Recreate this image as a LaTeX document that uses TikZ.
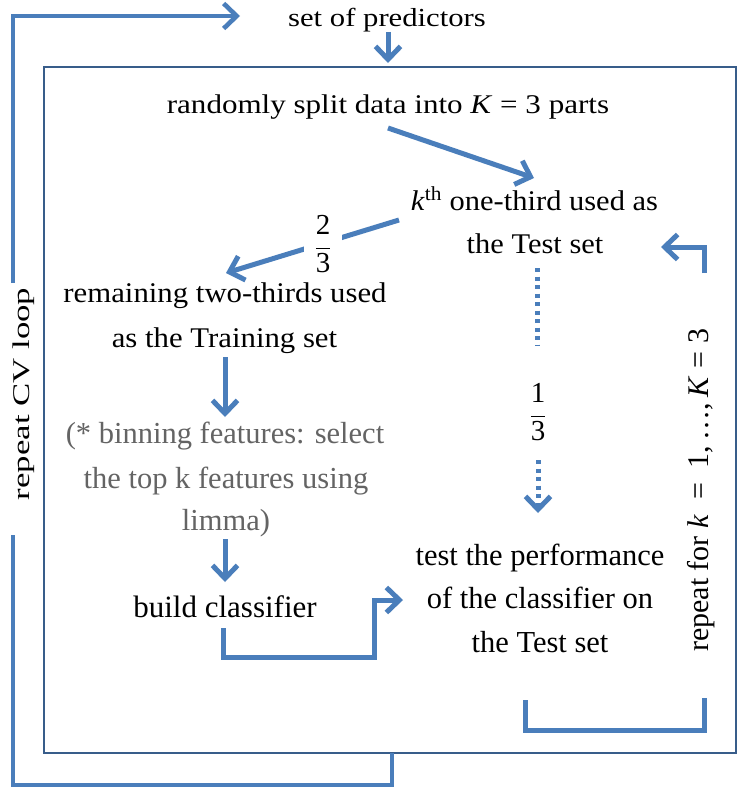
\documentclass[tikz,border=0pt]{standalone}
\usepackage{fontspec}
\setmainfont{Liberation Serif}
\usepackage{graphicx}
\usetikzlibrary{arrows.meta}
\definecolor{arrowblue}{RGB}{74,126,187}
\definecolor{boxblue}{RGB}{56,93,138}
\definecolor{notegray}{RGB}{100,100,100}
\newcommand{\sx}[2]{\scalebox{#1}[1]{#2}}
\newcommand{\fs}[1]{\fontsize{#1}{#1}\selectfont}
\newcommand{\myfrac}[2]{$\displaystyle\frac{\raisebox{3pt}{#1}}{\raisebox{-1.5pt}{#2}}$}
\begin{document}
\begin{tikzpicture}[x=1pt,y=-1pt,
  lbl/.style={inner sep=0pt, anchor=base},
  conn/.style={draw=arrowblue, line width=5pt},
  loopline/.style={draw=arrowblue, line width=4.6pt},
  tip/.style={-{Straight Barb[length=13pt,width=25pt]}},
  dotline/.style={dash pattern=on 4.4pt off 4.1pt}
]
\useasboundingbox (0,0) rectangle (742,792);
\fill[white] (0,0) rectangle (742,792);

% inner frame
\draw[boxblue, line width=1.3pt] (44,67) rectangle (736,753);

% text nodes
\node[lbl, font=\fs{26}] (pred) at (387,27) {\sx{1.18}{set of predictors}};
\node[lbl, font=\fs{27}] (split) at (388,113) {\sx{1.15}{randomly split data into \textit{K} = 3 parts}};
\node[lbl, font=\fs{28.5}] (kthA) at (534.5,210) {\sx{1.07}{\textit{k}\textsuperscript{th} one-third used as}};
\node[lbl, font=\fs{28.5}] (kthB) at (535,253) {\sx{1.07}{the Test set}};
\node[lbl, font=\fs{28.5}] (trainA) at (225,302) {\sx{1.08}{remaining two-thirds used}};
\node[lbl, font=\fs{28.5}] (trainB) at (224.5,347) {\sx{1.08}{as the Training set}};
\node[lbl, font=\fs{30.5}, text=notegray] (binA) at (225,443) {(* binning features: select};
\node[lbl, font=\fs{30.5}, text=notegray] (binB) at (226,488) {the top k features using};
\node[lbl, font=\fs{30.5}, text=notegray] (binC) at (226,530) {limma)};
\node[lbl, font=\fs{31}] (build) at (225,617) {build classifier};
\node[lbl, font=\fs{30.5}] (testA) at (540,565) {test the performance};
\node[lbl, font=\fs{30.5}] (testB) at (540,608) {of the classifier on};
\node[lbl, font=\fs{30.5}] (testC) at (540,652) {the Test set};
\node[inner sep=0pt, rotate=90, font=\fs{24}] (cv) at (24,394) {\sx{1.45}{repeat CV loop}};
\node[inner sep=0pt, rotate=90, font=\fs{30}] (rep) at (701,490)
  {repeat for \textit{k}\enspace=\enspace1,\,…,\,\textit{K}\;=\;3};

% connector end points
\coordinate (predS) at (388,32);
\coordinate (frameN) at (388,63);
\coordinate (splitS) at (388,128);
\coordinate (kthN) at (534,178);
\coordinate (kthW) at (399,220);
\coordinate (trainNE) at (226,273);
\coordinate (trainS) at (225,357);
\coordinate (binN) at (225,417);
\coordinate (binS) at (225,539);
\coordinate (buildN) at (225,582);
\coordinate (buildS) at (223,628);
\coordinate (testW) at (403,600);
\coordinate (kthS) at (537,268);
\coordinate (dotA) at (537,345);
\coordinate (dotB) at (538,460);
\coordinate (testN) at (538,513);
\coordinate (testS) at (525,700);
\coordinate (repS) at (704,698);
\coordinate (repN) at (704,273);
\coordinate (kthE) at (661,247);
\coordinate (frameS) at (392,753);
\coordinate (cvS) at (13,535);
\coordinate (cvN) at (13,283);
\coordinate (predW) at (240,16);

% connectors
\draw[conn, tip] (predS) -- (frameN);
\draw[conn, tip] (splitS) -- (kthN);
\draw[conn, tip] (kthW) -- (trainNE);
\node[fill=white, inner xsep=11pt, inner ysep=0pt, font=\fs{29}] (twothirds) at (323,244) {\myfrac{2}{3}};
\draw[conn, tip] (trainS) -- (binN);
\draw[conn, tip] (binS) -- (buildN);
\draw[conn, tip] (buildS) -- (223,657) -- (374,657) -- (374,600) -- (testW);
\draw[conn, dotline] (kthS) -- (dotA);
\node[inner sep=0pt, font=\fs{29}] (onethird) at (538,412) {\myfrac{1}{3}};
\draw[conn, dotline, tip] (dotB) -- (testN);
\draw[conn] (testS) -- (525,730) -- (704,730) -- (repS);
\draw[conn, tip] (repN) -- (704,247) -- (kthE);
\draw[loopline] (frameS) -- (392,785) -- (13,785) -- (cvS);
\draw[loopline, tip] (cvN) -- (13,16) -- (predW);
\end{tikzpicture}
\end{document}
